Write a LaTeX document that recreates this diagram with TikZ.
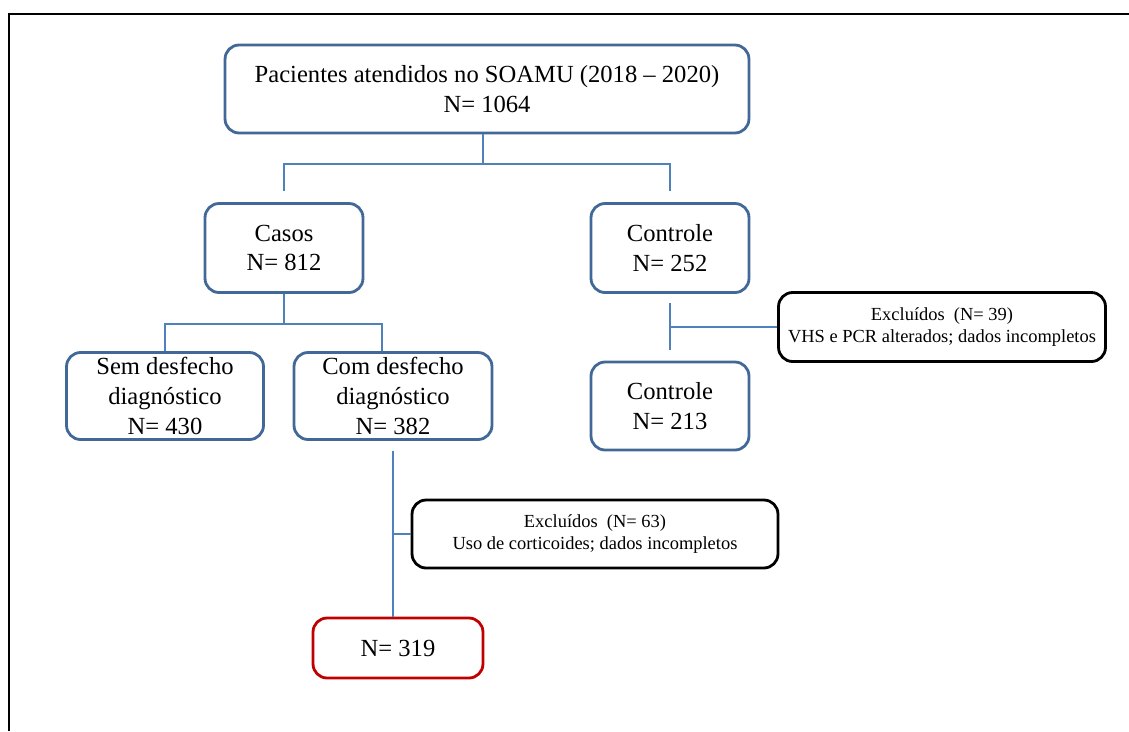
\documentclass[tikz,border=0pt]{standalone}
\usepackage{fontspec}
\setmainfont{Liberation Serif}
\usetikzlibrary{positioning}

\definecolor{azulcaixa}{RGB}{65,104,150}
\definecolor{azullinha}{RGB}{79,129,189}
\definecolor{vermelho}{RGB}{192,0,0}

\tikzset{
  caixa/.style={draw=azulcaixa, line width=1.6pt, rounded corners=8pt, align=center,
    inner sep=0pt, font=\fontsize{14}{17}\selectfont},
  excluido/.style={caixa, draw=black, font=\fontsize{10.5}{13}\selectfont},
  ligacao/.style={draw=azullinha, line width=1.2pt},
}

\begin{document}
\begin{tikzpicture}[x=0.02cm,y=-0.02cm]
    \useasboundingbox (0,0) rectangle (1129,731);
    % Moldura
    \draw[line width=1.3pt] (9,731) -- (9,14) -- (1129,14);

    % Caixas
    \node[caixa, minimum width=10.48cm, minimum height=1.76cm] (topo) at (487,89)
        {Pacientes atendidos no SOAMU (2018 -- 2020)\\N= 1064};
    \node[caixa, minimum width=3.16cm, minimum height=1.78cm] (casos) at (284,248)
        {Casos\\N= 812};
    \node[caixa, minimum width=3.16cm, minimum height=1.78cm] (controle) at (670,248)
        {Controle\\N= 252};
    \node[caixa, minimum width=3.94cm, minimum height=1.74cm] (sem) at (165,396)
        {Sem desfecho\\diagnóstico\\N= 430};
    \node[caixa, minimum width=3.96cm, minimum height=1.74cm] (com) at (393,396)
        {Com desfecho\\diagnóstico\\N= 382};
    \node[caixa, minimum width=3.16cm, minimum height=1.76cm] (controleb) at (670,406)
        {Controle\\N= 213};
    \node[excluido, minimum width=6.54cm, minimum height=1.38cm] (exclA) at (942,327)
        {Excluídos~ (N= 39)\\VHS e PCR alterados; dados incompletos};
    \node[excluido, minimum width=7.32cm, minimum height=1.36cm] (exclB) at (595,534)
        {Excluídos~ (N= 63)\\Uso de corticoides; dados incompletos};
    \node[caixa, draw=vermelho, minimum width=3.4cm, minimum height=1.2cm] (final) at (398,648)
        {N= 319};

    % Ligações
    \draw[ligacao] (topo.south) ++(-4,0) -- ++(0,30) coordinate (r1);
    \draw[ligacao, shorten <=0.22cm, shorten >=0.22cm] (casos.north) |- (r1) -| (controle.north);
    \draw[ligacao] (casos.south) -- ++(0,30) coordinate (r2);
    \draw[ligacao] (sem.north) |- (r2) -| ([xshift=-0.22cm]com.north);
    \draw[ligacao, shorten <=0.18cm, shorten >=0.22cm] (controle.south) -- (controleb.north);
    \draw[ligacao] (exclA.west) -- (exclA.west -| controle.south);
    \draw[ligacao, shorten <=0.2cm] (com.south) -- (com.south |- final.north);
    \draw[ligacao] (exclB.west) -- (exclB.west -| com.south);
\end{tikzpicture}
\end{document}
